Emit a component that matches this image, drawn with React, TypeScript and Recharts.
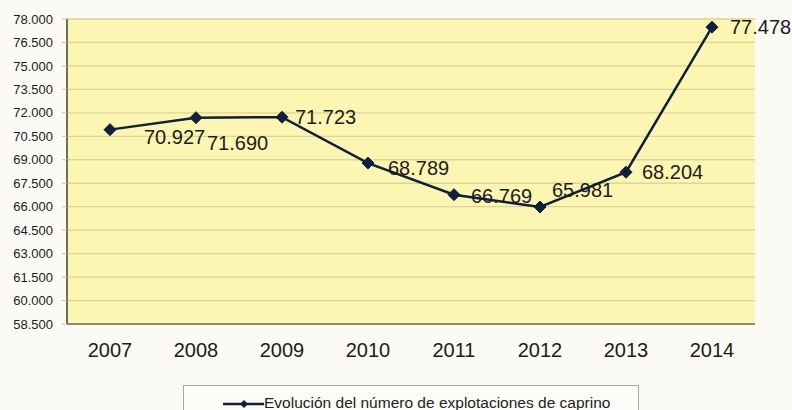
import React from 'react';
import { LineChart, Line, XAxis, YAxis, CartesianGrid, Legend } from 'recharts';

const years = ['2007', '2008', '2009', '2010', '2011', '2012', '2013', '2014'];
const explotaciones = [70927, 71690, 71723, 68789, 66769, 65981, 68204, 77478];
const yTicks = [58500, 60000, 61500, 63000, 64500, 66000, 67500, 69000, 70500, 72000, 73500, 75000, 76500, 78000];
const seriesName = 'Evolución del número de explotaciones de caprino';

// label placement offsets (style only), [dx, dy] from each point
const labelOffsets: [number, number][] = [
  [34, 7], [11, 25], [13, 0], [20, 5], [17, 1], [12, -17], [16, 0], [18, 0],
];

const data = years.map((y, i) => ({ year: y, value: explotaciones[i] }));

const fmt = (v: number) => {
  const s = Math.round(v).toString();
  return s.length > 3 ? s.slice(0, s.length - 3) + '.' + s.slice(s.length - 3) : s;
};

const LINE_COLOR = '#0f1f3d';
const FONT = 'Liberation Sans, Arial, sans-serif';

const Diamond = (props: any) => {
  const { cx, cy } = props;
  if (cx == null || cy == null) return null;
  const r = 6;
  return (
    <polygon
      points={`${cx},${cy - r} ${cx + r},${cy} ${cx},${cy + r} ${cx - r},${cy}`}
      fill={LINE_COLOR}
      stroke={LINE_COLOR}
      strokeWidth={1}
    />
  );
};

const ValueLabel = (props: any) => {
  const { x, y, value, index } = props;
  const [dx, dy] = labelOffsets[index] || [12, 0];
  return (
    <text
      x={x + dx}
      y={y + dy}
      textAnchor="start"
      dominantBaseline="central"
      fontSize={20}
      fontFamily={FONT}
      fill="#1c1c1c"
    >
      {fmt(value)}
    </text>
  );
};

const LegendBox = () => (
  <div
    style={{
      width: 456,
      height: 32,
      border: '1px solid #a9a9a9',
      background: '#fcfbf7',
      boxSizing: 'border-box',
      position: 'relative',
      fontFamily: FONT,
    }}
  >
    <svg width={42} height={12} style={{ position: 'absolute', left: 39, top: 12 }}>
      <line x1={0} y1={6} x2={41} y2={6} stroke={LINE_COLOR} strokeWidth={2.5} />
      <polygon points="21,2 25,6 21,10 17,6" fill={LINE_COLOR} />
    </svg>
    <span
      style={{
        position: 'absolute',
        left: 80,
        top: 8,
        fontSize: 15.5,
        color: '#222',
        whiteSpace: 'nowrap',
        lineHeight: '18px',
      }}
    >
      {seriesName}
    </span>
  </div>
);

export default function App() {
  return (
    <div
      style={{
        position: 'absolute',
        left: 0,
        top: 0,
        width: 792,
        height: 410,
        background: '#fbfaf5',
        overflow: 'hidden',
      }}
    >
      <LineChart
        width={792}
        height={410}
        data={data}
        margin={{ top: 19, right: 37, left: 0, bottom: 46 }}
      >
        <CartesianGrid
          vertical={false}
          stroke="#dcd597"
          strokeWidth={1.3}
          fill="#fcf6b2"
          fillOpacity={1}
        />
        <XAxis
          dataKey="year"
          axisLine={{ stroke: '#6e6e62', strokeWidth: 1.5 }}
          tickLine={false}
          tickSize={0}
          tickMargin={19}
          height={40}
          padding={{ left: 43, right: 43 }}
          tick={{ fontSize: 20, fill: '#1c1c1c', fontFamily: FONT }}
          interval={0}
        />
        <YAxis
          width={67}
          domain={[58500, 78000]}
          ticks={yTicks}
          interval={0}
          tickFormatter={fmt}
          axisLine={{ stroke: '#6e6e62', strokeWidth: 2 }}
          tickLine={{ stroke: '#c9c4a0' }}
          tickSize={5}
          tickMargin={9}
          tick={{ fontSize: 13, fill: '#1c1c1c', fontFamily: FONT }}
          allowDataOverflow
        />
        <Legend
          layout="horizontal"
          verticalAlign="middle"
          align="center"
          wrapperStyle={{ position: 'absolute', left: 183, top: 385, width: 456, height: 32 }}
          content={() => <LegendBox />}
        />
        <Line
          type="linear"
          dataKey="value"
          name={seriesName}
          stroke={LINE_COLOR}
          strokeWidth={2.5}
          dot={<Diamond />}
          activeDot={false}
          isAnimationActive={false}
          label={<ValueLabel />}
        />
      </LineChart>
    </div>
  );
}
